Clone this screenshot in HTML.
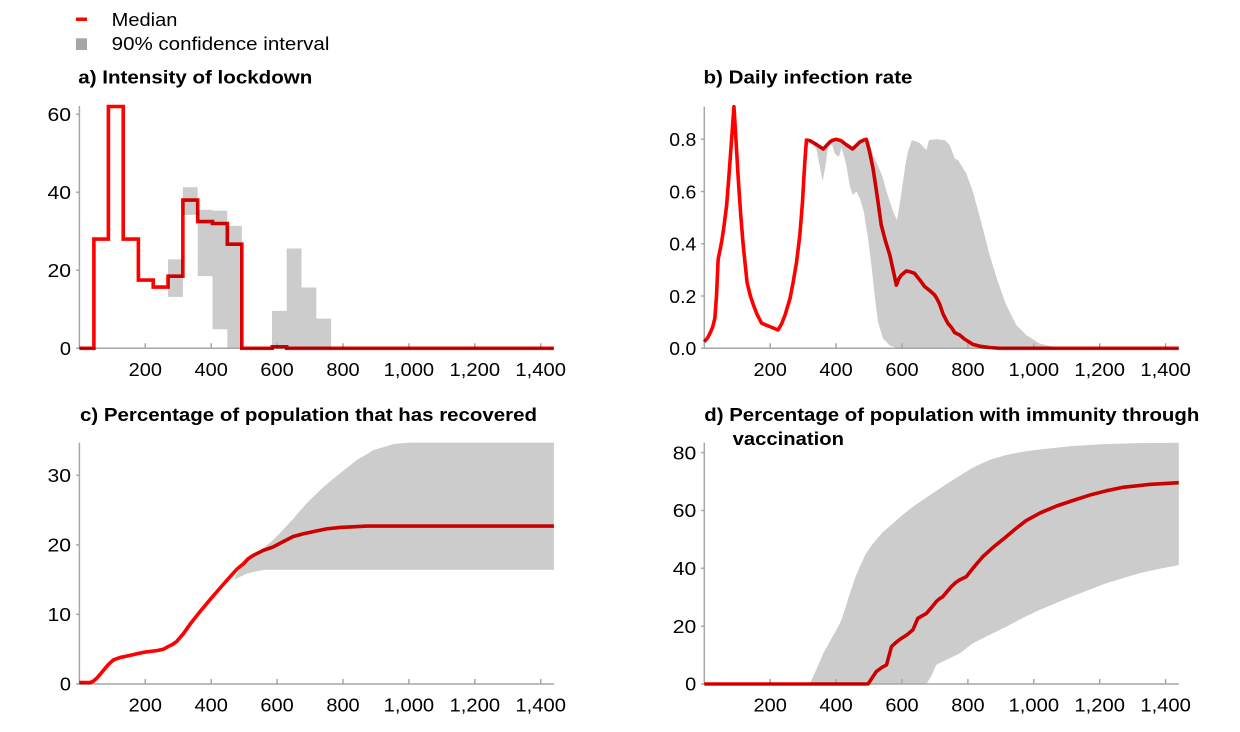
<!DOCTYPE html>
<html><head><meta charset="utf-8"><style>
html,body{margin:0;padding:0;background:#fff;}
svg{display:block;}
text{font-family:"Liberation Sans",Arial,sans-serif;fill:#000;}
.t{font-size:18px;font-weight:bold;}
.k{font-size:18.5px;}
.ax{stroke:#a6a6a6;stroke-width:1.5;fill:none;}
.band{fill:#cccccc;stroke:none;}
.med{fill:none;stroke:#ff0000;stroke-width:3.6;mix-blend-mode:multiply;}
</style></head><body>
<svg width="1240" height="732" viewBox="0 0 1240 732" xmlns="http://www.w3.org/2000/svg">
<rect width="1240" height="732" fill="#fff"/>
<!-- legend -->
<rect x="76" y="17.5" width="11" height="3.5" fill="#ff0000"/>
<rect x="76" y="38.3" width="11" height="11.7" fill="#a6a6a6"/>
<text class="k" x="111.7" y="26" textLength="65.7" lengthAdjust="spacingAndGlyphs">Median</text>
<text class="k" x="111.7" y="50" textLength="217.7" lengthAdjust="spacingAndGlyphs">90% confidence interval</text>

<!-- titles -->
<text class="t" x="78.3" y="83.3" textLength="234" lengthAdjust="spacingAndGlyphs">a) Intensity of lockdown</text>
<text class="t" x="703.5" y="83.3" textLength="209" lengthAdjust="spacingAndGlyphs">b) Daily infection rate</text>
<text class="t" x="80" y="421.2" textLength="457" lengthAdjust="spacingAndGlyphs">c) Percentage of population that has recovered</text>
<text class="t" x="704.3" y="420.8" textLength="495" lengthAdjust="spacingAndGlyphs">d) Percentage of population with immunity through</text>
<text class="t" x="732.7" y="445" textLength="111.3" lengthAdjust="spacingAndGlyphs">vaccination</text>

<!-- ===== Panel a ===== -->
<g transform="translate(79.4,348.3) scale(0.3295,-3.9)">
<path class="band" d="M269,13.2H314V22.8H269Z M314,34.2H359V41.3H314Z M359,18.5H404V35.5H359Z M404,4.9H449V35.3H404Z M449,0H493V31.4H449Z M584.5,0H629V9.6H584.5Z M629,0H674V25.6H629Z M674,0H719V15.6H674Z M719,0H764V7.6H719Z"/>
</g>
<path class="ax" d="M79.4,106V348.3H553.5 M145.3,348.3V343.3 M211.2,348.3V343.3 M277.1,348.3V343.3 M343,348.3V343.3 M408.9,348.3V343.3 M474.8,348.3V343.3 M540.7,348.3V343.3 M76.2,348.3H79.4 M76.2,270.3H79.4 M76.2,192.3H79.4 M76.2,114.3H79.4"/>
<g transform="translate(79.4,348.3) scale(0.3295,-3.9)">
<path class="med" vector-effect="non-scaling-stroke" stroke-linejoin="miter" d="M0,0H44V28H88V62H133V28H179V17.5H224V15.7H269V18.5H314V38H359V32.5H404V32H449V26.7H493V0H585V0.4H629V0H1440"/>
</g>
<text class="k" x="71" y="355" text-anchor="end" textLength="11.1" lengthAdjust="spacingAndGlyphs">0</text>
<text class="k" x="71" y="277" text-anchor="end" textLength="23.5" lengthAdjust="spacingAndGlyphs">20</text>
<text class="k" x="71" y="199" text-anchor="end" textLength="23.5" lengthAdjust="spacingAndGlyphs">40</text>
<text class="k" x="71" y="121" text-anchor="end" textLength="23.5" lengthAdjust="spacingAndGlyphs">60</text>
<text class="k" x="145.3" y="376" text-anchor="middle" textLength="33.3" lengthAdjust="spacingAndGlyphs">200</text>
<text class="k" x="211.2" y="376" text-anchor="middle" textLength="33.3" lengthAdjust="spacingAndGlyphs">400</text>
<text class="k" x="277.1" y="376" text-anchor="middle" textLength="33.3" lengthAdjust="spacingAndGlyphs">600</text>
<text class="k" x="343" y="376" text-anchor="middle" textLength="33.3" lengthAdjust="spacingAndGlyphs">800</text>
<text class="k" x="408.9" y="376" text-anchor="middle" textLength="50.5" lengthAdjust="spacingAndGlyphs">1,000</text>
<text class="k" x="474.8" y="376" text-anchor="middle" textLength="50.5" lengthAdjust="spacingAndGlyphs">1,200</text>
<text class="k" x="540.7" y="376" text-anchor="middle" textLength="50.5" lengthAdjust="spacingAndGlyphs">1,400</text>

<!-- ===== Panel b ===== -->
<g transform="translate(704.3,348.3) scale(0.3295,-261.25)">
<path class="band" d="M310,0.797 L320,0.8 L340,0.79 L361,0.77 L381,0.795 L401,0.802 L426,0.79 L450,0.77 L472,0.795 L492,0.802 L500,0.79 L512,0.74 L522,0.714 L540,0.66 L553,0.6 L573,0.523 L585,0.49 L594,0.56 L603,0.638 L610,0.7 L618,0.752 L630,0.797 L645,0.79 L654,0.786 L665,0.77 L674,0.759 L682,0.797 L704,0.8 L730,0.797 L745,0.778 L760,0.727 L770,0.72 L795,0.67 L815,0.6 L840,0.485 L866,0.357 L891,0.255 L916,0.166 L947,0.089 L977,0.051 L1017,0.019 L1058,0.005 L1090,0 L600,0 L580,0.003 L563,0.01 L542,0.038 L527,0.102 L517,0.204 L507,0.319 L497,0.42 L484,0.523 L472,0.574 L462,0.6 L450,0.587 L441,0.625 L431,0.7 L421,0.75 L416,0.77 L411,0.74 L406,0.733 L396,0.746 L388,0.78 L376,0.772 L368,0.7 L359,0.64 L350,0.7 L341,0.759 L330,0.785 Z"/>
</g>
<path class="ax" d="M704.3,106.7V348.3H1178.8 M770.2,348.3V343.3 M836.1,348.3V343.3 M902,348.3V343.3 M967.9,348.3V343.3 M1033.8,348.3V343.3 M1099.7,348.3V343.3 M1165.6,348.3V343.3 M701.1,348.3H704.3 M701.1,296.05H704.3 M701.1,243.8H704.3 M701.1,191.55H704.3 M701.1,139.3H704.3"/>
<g transform="translate(704.3,348.3) scale(0.3295,-261.25)">
<path class="med" vector-effect="non-scaling-stroke" stroke-linejoin="round" d="M0,0.025 L10,0.04 L17,0.057 L25,0.08 L32,0.115 L37,0.2 L42,0.34 L53,0.41 L60,0.47 L68,0.55 L76,0.68 L84,0.82 L90,0.925 L96,0.8 L103,0.65 L110,0.52 L118,0.395 L130,0.25 L140,0.2 L149,0.166 L160,0.13 L174,0.096 L199,0.083 L224,0.07 L235,0.095 L245,0.127 L260,0.19 L270,0.255 L280,0.33 L290,0.434 L298,0.56 L302,0.65 L306,0.73 L310,0.797 L320,0.795 L340,0.78 L361,0.763 L370,0.775 L381,0.79 L390,0.797 L401,0.8 L415,0.795 L430,0.78 L450,0.763 L460,0.775 L472,0.79 L485,0.798 L492,0.8 L502,0.75 L512,0.689 L525,0.58 L537,0.472 L550,0.41 L563,0.357 L573,0.3 L583,0.242 L590,0.265 L598,0.28 L613,0.296 L625,0.293 L638,0.287 L655,0.26 L669,0.236 L685,0.22 L699,0.204 L706,0.19 L714,0.17 L725,0.13 L739,0.096 L750,0.08 L760,0.06 L775,0.051 L790,0.035 L815,0.015 L840,0.007 L866,0.003 L896,0 L1440,0"/>
</g>
<text class="k" x="696.3" y="355" text-anchor="end" textLength="27" lengthAdjust="spacingAndGlyphs">0.0</text>
<text class="k" x="696.3" y="302.75" text-anchor="end" textLength="27" lengthAdjust="spacingAndGlyphs">0.2</text>
<text class="k" x="696.3" y="250.5" text-anchor="end" textLength="27" lengthAdjust="spacingAndGlyphs">0.4</text>
<text class="k" x="696.3" y="198.25" text-anchor="end" textLength="27" lengthAdjust="spacingAndGlyphs">0.6</text>
<text class="k" x="696.3" y="146" text-anchor="end" textLength="27" lengthAdjust="spacingAndGlyphs">0.8</text>
<text class="k" x="770.2" y="376" text-anchor="middle" textLength="33.3" lengthAdjust="spacingAndGlyphs">200</text>
<text class="k" x="836.1" y="376" text-anchor="middle" textLength="33.3" lengthAdjust="spacingAndGlyphs">400</text>
<text class="k" x="902" y="376" text-anchor="middle" textLength="33.3" lengthAdjust="spacingAndGlyphs">600</text>
<text class="k" x="967.9" y="376" text-anchor="middle" textLength="33.3" lengthAdjust="spacingAndGlyphs">800</text>
<text class="k" x="1033.8" y="376" text-anchor="middle" textLength="50.5" lengthAdjust="spacingAndGlyphs">1,000</text>
<text class="k" x="1099.7" y="376" text-anchor="middle" textLength="50.5" lengthAdjust="spacingAndGlyphs">1,200</text>
<text class="k" x="1165.6" y="376" text-anchor="middle" textLength="50.5" lengthAdjust="spacingAndGlyphs">1,400</text>

<!-- ===== Panel c ===== -->
<g transform="translate(79.4,684) scale(0.3295,-6.957)">
<path class="band" d="M470,15.0 L487,15.4 L510,15.9 L528,16.1 L560,16.4 L1440,16.4 L1440,34.7 L1003,34.7 L953,34.5 L892,33.6 L842,32.2 L791,30.3 L740,28.3 L690,26 L650,23.8 L609,21.7 L588,20.7 L560,19.6 L540,19.0 L510,17.8 L480,16.0 Z"/>
</g>
<path class="ax" d="M79.4,442.7V684H553.9 M145.3,684V679 M211.2,684V679 M277.1,684V679 M343,684V679 M408.9,684V679 M474.8,684V679 M540.7,684V679 M76.2,684H79.4 M76.2,614.4H79.4 M76.2,544.9H79.4 M76.2,475.3H79.4"/>
<g transform="translate(79.4,684) scale(0.3295,-6.957)">
<path class="med" vector-effect="non-scaling-stroke" stroke-linejoin="round" d="M0,0.2 L32,0.2 L42,0.4 L52,0.8 L65,1.5 L78,2.25 L90,2.9 L103,3.45 L123,3.8 L143,4.0 L170,4.3 L194,4.55 L235,4.8 L255,5.0 L270,5.4 L283,5.7 L295,6.1 L315,7.2 L336,8.6 L366,10.4 L396,12.1 L427,13.8 L457,15.4 L478,16.5 L498,17.3 L512,18.0 L528,18.5 L558,19.2 L588,19.7 L620,20.5 L649,21.2 L680,21.6 L710,21.9 L750,22.3 L791,22.5 L830,22.6 L872,22.7 L1440,22.7"/>
</g>
<text class="k" x="71" y="690.7" text-anchor="end" textLength="11.1" lengthAdjust="spacingAndGlyphs">0</text>
<text class="k" x="71" y="621.1" text-anchor="end" textLength="23.5" lengthAdjust="spacingAndGlyphs">10</text>
<text class="k" x="71" y="551.6" text-anchor="end" textLength="23.5" lengthAdjust="spacingAndGlyphs">20</text>
<text class="k" x="71" y="482" text-anchor="end" textLength="23.5" lengthAdjust="spacingAndGlyphs">30</text>
<text class="k" x="145.3" y="711.7" text-anchor="middle" textLength="33.3" lengthAdjust="spacingAndGlyphs">200</text>
<text class="k" x="211.2" y="711.7" text-anchor="middle" textLength="33.3" lengthAdjust="spacingAndGlyphs">400</text>
<text class="k" x="277.1" y="711.7" text-anchor="middle" textLength="33.3" lengthAdjust="spacingAndGlyphs">600</text>
<text class="k" x="343" y="711.7" text-anchor="middle" textLength="33.3" lengthAdjust="spacingAndGlyphs">800</text>
<text class="k" x="408.9" y="711.7" text-anchor="middle" textLength="50.5" lengthAdjust="spacingAndGlyphs">1,000</text>
<text class="k" x="474.8" y="711.7" text-anchor="middle" textLength="50.5" lengthAdjust="spacingAndGlyphs">1,200</text>
<text class="k" x="540.7" y="711.7" text-anchor="middle" textLength="50.5" lengthAdjust="spacingAndGlyphs">1,400</text>

<!-- ===== Panel d ===== -->
<g transform="translate(704.3,684) scale(0.3295,-2.892)">
<path class="band" d="M320,0 L340,5 L361,10.6 L385,15.5 L406,19.8 L416,22.1 L430,27 L442,31.4 L457,36.5 L472,40.6 L490,45 L512,48.6 L540,52.3 L573,55.6 L600,58.3 L633,61.3 L670,64.2 L704,66.8 L740,69.5 L775,72 L815,74.8 L866,77.5 L916,79.2 L966,80.3 L1017,81.1 L1118,82.3 L1219,83 L1320,83.3 L1440,83.4 L1440,41.1 L1380,39.8 L1320,38.3 L1219,34.8 L1118,30.4 L1017,25.6 L966,22.8 L916,19.8 L866,17 L815,14.1 L775,10.6 L745,8.9 L714,7.2 L704,6.6 L690,3 L674,0 Z"/>
</g>
<path class="ax" d="M704.3,442.7V684H1178.8 M770.2,684V679 M836.1,684V679 M902,684V679 M967.9,684V679 M1033.8,684V679 M1099.7,684V679 M1165.6,684V679 M701.1,684H704.3 M701.1,626.2H704.3 M701.1,568.3H704.3 M701.1,510.5H704.3 M701.1,452.6H704.3"/>
<g transform="translate(704.3,684) scale(0.3295,-2.892)">
<path class="med" vector-effect="non-scaling-stroke" stroke-linejoin="round" d="M0,0 L497,0 L522,4.3 L540,5.8 L553,6.6 L568,12.9 L580,14.2 L593,15.4 L615,17 L633,18.7 L648,22.7 L660,23.5 L674,24.4 L690,26.5 L704,28.5 L714,29.5 L724,30.2 L737,32 L750,33.7 L762,35 L775,36 L795,37.1 L815,40 L845,44 L880,47.6 L916,50.9 L945,53.7 L977,56.5 L1020,59.2 L1068,61.5 L1120,63.5 L1169,65.3 L1220,66.8 L1270,68 L1350,69 L1440,69.6"/>
</g>
<text class="k" x="696.3" y="690.7" text-anchor="end" textLength="11.1" lengthAdjust="spacingAndGlyphs">0</text>
<text class="k" x="696.3" y="632.9" text-anchor="end" textLength="23.5" lengthAdjust="spacingAndGlyphs">20</text>
<text class="k" x="696.3" y="575" text-anchor="end" textLength="23.5" lengthAdjust="spacingAndGlyphs">40</text>
<text class="k" x="696.3" y="517.2" text-anchor="end" textLength="23.5" lengthAdjust="spacingAndGlyphs">60</text>
<text class="k" x="696.3" y="459.3" text-anchor="end" textLength="23.5" lengthAdjust="spacingAndGlyphs">80</text>
<text class="k" x="770.2" y="711.7" text-anchor="middle" textLength="33.3" lengthAdjust="spacingAndGlyphs">200</text>
<text class="k" x="836.1" y="711.7" text-anchor="middle" textLength="33.3" lengthAdjust="spacingAndGlyphs">400</text>
<text class="k" x="902" y="711.7" text-anchor="middle" textLength="33.3" lengthAdjust="spacingAndGlyphs">600</text>
<text class="k" x="967.9" y="711.7" text-anchor="middle" textLength="33.3" lengthAdjust="spacingAndGlyphs">800</text>
<text class="k" x="1033.8" y="711.7" text-anchor="middle" textLength="50.5" lengthAdjust="spacingAndGlyphs">1,000</text>
<text class="k" x="1099.7" y="711.7" text-anchor="middle" textLength="50.5" lengthAdjust="spacingAndGlyphs">1,200</text>
<text class="k" x="1165.6" y="711.7" text-anchor="middle" textLength="50.5" lengthAdjust="spacingAndGlyphs">1,400</text>
</svg>
</body></html>
